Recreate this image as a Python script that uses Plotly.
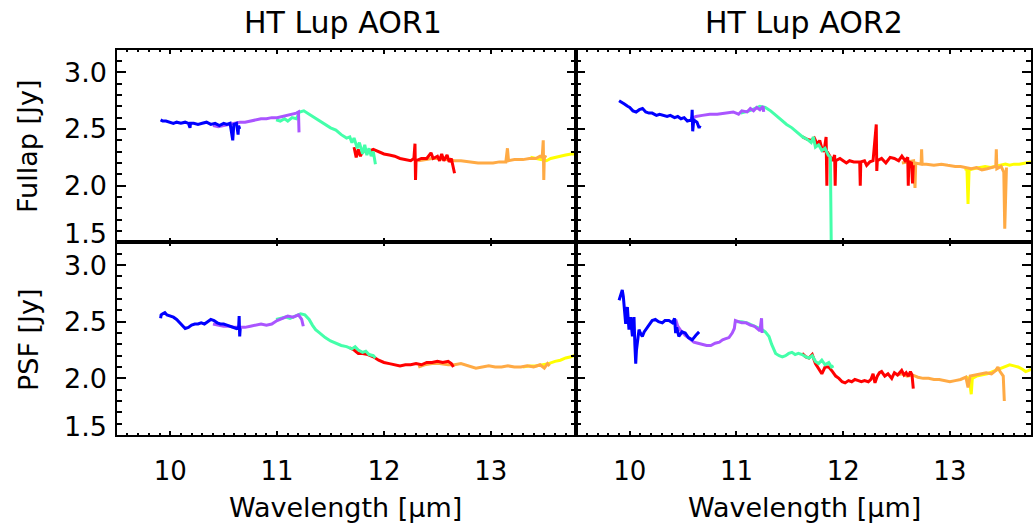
import plotly.graph_objects as go

# ---------------- data ----------------
# Panel: Fullap, AOR1
F1_BLUE_X = [9.91, 9.93, 9.96, 10.0, 10.03, 10.06, 10.1, 10.14, 10.17, 10.185, 10.19, 10.22, 10.26, 10.3, 10.34, 10.38, 10.42, 10.46, 10.5, 10.53, 10.56, 10.585, 10.59, 10.595, 10.62, 10.635, 10.64, 10.65]
F1_BLUE_Y = [2.58, 2.57, 2.57, 2.56, 2.55, 2.56, 2.55, 2.56, 2.55, 2.51, 2.55, 2.55, 2.54, 2.55, 2.56, 2.54, 2.55, 2.53, 2.55, 2.54, 2.55, 2.40, 2.53, 2.54, 2.55, 2.45, 2.53, 2.50]
F1_PURP_X = [10.40, 10.45, 10.5, 10.55, 10.6, 10.65, 10.7, 10.75, 10.8, 10.85, 10.9, 10.95, 11.0, 11.05, 11.1, 11.15, 11.18, 11.2, 11.205]
F1_PURP_Y = [2.53, 2.52, 2.53, 2.54, 2.55, 2.56, 2.56, 2.57, 2.58, 2.59, 2.59, 2.60, 2.60, 2.61, 2.62, 2.63, 2.64, 2.65, 2.47]
F1_AQUA_X = [10.99, 11.03, 11.07, 11.1, 11.14, 11.18, 11.21, 11.25, 11.3, 11.35, 11.4, 11.45, 11.5, 11.55, 11.6, 11.65, 11.68, 11.7, 11.72, 11.75, 11.77, 11.8, 11.82, 11.84, 11.86, 11.88, 11.9, 11.92]
F1_AQUA_Y = [2.58, 2.57, 2.59, 2.57, 2.60, 2.59, 2.65, 2.66, 2.63, 2.60, 2.57, 2.54, 2.51, 2.49, 2.45, 2.42, 2.43, 2.38, 2.42, 2.33, 2.38, 2.28, 2.36, 2.27, 2.33, 2.26, 2.30, 2.19]
F1_RED_X = [11.72, 11.74, 11.76, 11.78, 11.8, 11.85, 11.9, 11.95, 12.0, 12.05, 12.1, 12.15, 12.2, 12.25, 12.28, 12.29, 12.295, 12.3, 12.35, 12.4, 12.44, 12.46, 12.5, 12.52, 12.54, 12.56, 12.59, 12.61, 12.63, 12.65, 12.66]
F1_RED_Y = [2.34, 2.25, 2.32, 2.26, 2.31, 2.30, 2.32, 2.30, 2.28, 2.27, 2.26, 2.24, 2.23, 2.22, 2.24, 2.37, 2.05, 2.22, 2.24, 2.24, 2.29, 2.24, 2.26, 2.22, 2.28, 2.22, 2.27, 2.21, 2.24, 2.14, 2.11]
F1_ORAN_X = [12.32, 12.38, 12.45, 12.52, 12.6, 12.66, 12.72, 12.8, 12.88, 12.95, 13.02, 13.08, 13.14, 13.155, 13.165, 13.22, 13.3, 13.36, 13.42, 13.46, 13.48, 13.49, 13.495, 13.5, 13.52]
F1_ORAN_Y = [2.22, 2.23, 2.24, 2.24, 2.23, 2.22, 2.22, 2.21, 2.20, 2.20, 2.20, 2.21, 2.21, 2.33, 2.22, 2.23, 2.23, 2.24, 2.24, 2.26, 2.25, 2.40, 2.05, 2.26, 2.25]
F1_YELL_X = [13.37, 13.42, 13.47, 13.52, 13.56, 13.6, 13.65, 13.7, 13.75, 13.8]
F1_YELL_Y = [2.25, 2.24, 2.23, 2.22, 2.24, 2.25, 2.26, 2.27, 2.28, 2.28]

# Panel: Fullap, AOR2
F2_BLUE_X = [9.90, 9.92, 9.95, 9.98, 10.0, 10.03, 10.06, 10.09, 10.12, 10.15, 10.18, 10.21, 10.25, 10.28, 10.31, 10.35, 10.38, 10.42, 10.45, 10.48, 10.51, 10.54, 10.58, 10.585, 10.59, 10.6, 10.63, 10.65, 10.66]
F2_BLUE_Y = [2.75, 2.74, 2.72, 2.70, 2.69, 2.66, 2.65, 2.67, 2.68, 2.65, 2.64, 2.64, 2.62, 2.63, 2.62, 2.61, 2.62, 2.60, 2.61, 2.59, 2.60, 2.57, 2.58, 2.67, 2.48, 2.58, 2.56, 2.51, 2.53]
F2_PURP_X = [10.57, 10.62, 10.68, 10.75, 10.82, 10.9, 10.97, 11.02, 11.05, 11.1, 11.13, 11.16, 11.19, 11.22, 11.25, 11.255]
F2_PURP_Y = [2.59, 2.61, 2.62, 2.63, 2.63, 2.64, 2.65, 2.63, 2.66, 2.65, 2.68, 2.66, 2.69, 2.67, 2.70, 2.65]
F2_AQUA_X = [11.04, 11.08, 11.12, 11.17, 11.22, 11.27, 11.32, 11.37, 11.42, 11.47, 11.52, 11.57, 11.62, 11.66, 11.7, 11.72, 11.74, 11.77, 11.8, 11.83, 11.86, 11.88, 11.885, 11.89]
F2_AQUA_Y = [2.64, 2.65, 2.66, 2.68, 2.70, 2.69, 2.66, 2.62, 2.58, 2.54, 2.51, 2.47, 2.43, 2.41, 2.38, 2.43, 2.34, 2.36, 2.31, 2.33, 2.27, 2.25, 1.30, 1.30]
F2_RED_X = [11.62, 11.66, 11.7, 11.73, 11.76, 11.78, 11.8, 11.82, 11.84, 11.847, 11.85, 11.88, 11.9, 11.92, 11.925, 11.93, 11.97, 12.0, 12.03, 12.06, 12.1, 12.155, 12.16, 12.165, 12.2, 12.22, 12.25, 12.28, 12.31, 12.315, 12.32, 12.36, 12.4, 12.44, 12.48, 12.52, 12.55, 12.58, 12.605, 12.61, 12.615, 12.64, 12.65, 12.657]
F2_RED_Y = [2.43, 2.41, 2.40, 2.42, 2.36, 2.40, 2.33, 2.30, 2.43, 2.00, 2.30, 2.25, 2.22, 2.27, 2.00, 2.22, 2.24, 2.22, 2.20, 2.22, 2.21, 2.21, 2.00, 2.21, 2.22, 2.18, 2.21, 2.22, 2.54, 2.13, 2.22, 2.24, 2.20, 2.25, 2.24, 2.22, 2.26, 2.22, 2.25, 2.00, 2.21, 2.20, 2.02, 2.18]
F2_ORAN_X = [12.55, 12.6, 12.66, 12.673, 12.68, 12.73, 12.735, 12.74, 12.78, 12.85, 12.92, 12.98, 13.05, 13.1, 13.15, 13.2, 13.25, 13.3, 13.35, 13.4, 13.43, 13.435, 13.44, 13.48, 13.505, 13.514, 13.52, 13.53]
F2_ORAN_Y = [2.20, 2.21, 2.22, 1.98, 2.20, 2.19, 2.32, 2.19, 2.19, 2.18, 2.19, 2.18, 2.17, 2.17, 2.16, 2.15, 2.16, 2.14, 2.15, 2.16, 2.17, 2.32, 2.15, 2.17, 2.12, 1.62, 1.90, 2.16]
F2_YELL_X = [13.14, 13.16, 13.17, 13.18, 13.22, 13.28, 13.33, 13.38, 13.43, 13.48, 13.52, 13.56, 13.6, 13.65, 13.7, 13.76]
F2_YELL_Y = [2.15, 2.14, 1.84, 2.14, 2.15, 2.16, 2.17, 2.16, 2.17, 2.18, 2.19, 2.18, 2.19, 2.19, 2.20, 2.21]

# Panel: PSF, AOR1
P1_BLUE_X = [9.91, 9.915, 9.93, 9.95, 9.97, 10.0, 10.03, 10.06, 10.09, 10.12, 10.14, 10.17, 10.2, 10.23, 10.26, 10.29, 10.32, 10.35, 10.38, 10.41, 10.44, 10.47, 10.5, 10.53, 10.56, 10.59, 10.62, 10.64, 10.645, 10.65, 10.655]
P1_BLUE_Y = [2.53, 2.56, 2.57, 2.58, 2.56, 2.55, 2.54, 2.52, 2.49, 2.46, 2.44, 2.45, 2.47, 2.48, 2.48, 2.49, 2.48, 2.50, 2.52, 2.51, 2.49, 2.48, 2.48, 2.47, 2.46, 2.45, 2.44, 2.45, 2.55, 2.37, 2.44]
P1_PURP_X = [10.40, 10.45, 10.5, 10.55, 10.6, 10.65, 10.7, 10.75, 10.8, 10.85, 10.9, 10.95, 11.0, 11.05, 11.1, 11.15, 11.2, 11.23, 11.245]
P1_PURP_Y = [2.48, 2.47, 2.46, 2.46, 2.45, 2.45, 2.45, 2.46, 2.47, 2.48, 2.47, 2.48, 2.51, 2.53, 2.55, 2.54, 2.56, 2.52, 2.46]
P1_AQUA_X = [10.99, 11.03, 11.08, 11.12, 11.17, 11.22, 11.26, 11.3, 11.33, 11.36, 11.4, 11.45, 11.5, 11.55, 11.6, 11.65, 11.7, 11.73, 11.76, 11.8, 11.83, 11.86, 11.9, 11.92]
P1_AQUA_Y = [2.52, 2.53, 2.54, 2.53, 2.55, 2.57, 2.56, 2.52, 2.47, 2.43, 2.40, 2.36, 2.33, 2.31, 2.29, 2.28, 2.26, 2.28, 2.25, 2.23, 2.24, 2.21, 2.20, 2.18]
P1_RED_X = [11.68, 11.72, 11.76, 11.8, 11.85, 11.9, 11.95, 12.0, 12.05, 12.1, 12.15, 12.2, 12.25, 12.3, 12.35, 12.4, 12.45, 12.5, 12.55, 12.6, 12.63, 12.65]
P1_RED_Y = [2.27, 2.25, 2.22, 2.22, 2.21, 2.19, 2.16, 2.14, 2.13, 2.12, 2.11, 2.12, 2.12, 2.13, 2.12, 2.14, 2.14, 2.15, 2.14, 2.15, 2.13, 2.10]
P1_ORAN_X = [12.32, 12.38, 12.45, 12.52, 12.6, 12.66, 12.72, 12.8, 12.86, 12.92, 12.98, 13.04, 13.1, 13.16, 13.22, 13.28, 13.34, 13.4, 13.46, 13.5, 13.53, 13.55]
P1_ORAN_Y = [2.10, 2.12, 2.13, 2.13, 2.12, 2.12, 2.13, 2.11, 2.09, 2.10, 2.11, 2.10, 2.10, 2.11, 2.10, 2.10, 2.11, 2.10, 2.12, 2.09, 2.13, 2.11]
P1_YELL_X = [13.3, 13.36, 13.42, 13.48, 13.54, 13.6, 13.65, 13.7, 13.75, 13.8]
P1_YELL_Y = [2.10, 2.11, 2.11, 2.12, 2.13, 2.15, 2.16, 2.18, 2.19, 2.21]

# Panel: PSF, AOR2
P2_BLUE_X = [9.90, 9.91, 9.93, 9.94, 9.947, 9.955, 9.962, 9.97, 9.978, 9.985, 9.993, 10.0, 10.009, 10.017, 10.025, 10.033, 10.04, 10.048, 10.056, 10.063, 10.071, 10.08, 10.087, 10.1, 10.118, 10.135, 10.15, 10.165, 10.18, 10.2, 10.21, 10.24, 10.27, 10.305, 10.33, 10.367, 10.4, 10.42, 10.43, 10.44, 10.46, 10.49, 10.52, 10.55, 10.585, 10.62, 10.65]
P2_BLUE_Y = [2.69, 2.72, 2.78, 2.72, 2.65, 2.56, 2.48, 2.58, 2.63, 2.53, 2.43, 2.50, 2.54, 2.45, 2.37, 2.48, 2.54, 2.30, 2.13, 2.25, 2.31, 2.40, 2.43, 2.40, 2.37, 2.41, 2.43, 2.45, 2.47, 2.50, 2.51, 2.52, 2.50, 2.49, 2.51, 2.51, 2.49, 2.53, 2.40, 2.45, 2.37, 2.41, 2.40, 2.36, 2.34, 2.38, 2.41]
P2_PURP_X = [10.43, 10.45, 10.48, 10.52, 10.56, 10.6, 10.64, 10.68, 10.72, 10.76, 10.8, 10.84, 10.87, 10.9, 10.93, 10.96, 10.98, 10.99, 11.02, 11.05, 11.09, 11.13, 11.17, 11.2, 11.22, 11.235, 11.24]
P2_PURP_Y = [2.52, 2.46, 2.42, 2.38, 2.35, 2.32, 2.31, 2.30, 2.29, 2.29, 2.31, 2.32, 2.34, 2.35, 2.36, 2.40, 2.44, 2.51, 2.50, 2.49, 2.49, 2.47, 2.46, 2.44, 2.42, 2.53, 2.40]
P2_AQUA_X = [11.0, 11.05, 11.1, 11.15, 11.2, 11.24, 11.27, 11.305, 11.33, 11.367, 11.4, 11.43, 11.46, 11.49, 11.52, 11.55, 11.58, 11.615, 11.65, 11.68, 11.71, 11.74, 11.77, 11.8, 11.83, 11.865, 11.89, 11.91]
P2_AQUA_Y = [2.50, 2.50, 2.49, 2.47, 2.45, 2.43, 2.41, 2.37, 2.30, 2.22, 2.20, 2.19, 2.20, 2.22, 2.23, 2.21, 2.22, 2.21, 2.19, 2.18, 2.20, 2.15, 2.13, 2.16, 2.12, 2.14, 2.10, 2.11]
P2_RED_X = [11.615, 11.65, 11.68, 11.71, 11.74, 11.77, 11.8, 11.83, 11.865, 11.9, 11.93, 11.96, 11.99, 12.018, 12.05, 12.08, 12.11, 12.143, 12.17, 12.2, 12.236, 12.26, 12.28, 12.298, 12.32, 12.34, 12.36, 12.39, 12.42, 12.455, 12.48, 12.51, 12.548, 12.57, 12.59, 12.61, 12.63, 12.645, 12.657]
P2_RED_Y = [2.22, 2.19, 2.18, 2.21, 2.13, 2.08, 2.04, 2.10, 2.10, 2.06, 2.02, 2.00, 1.97, 1.96, 1.98, 1.97, 1.99, 1.98, 1.97, 1.98, 1.97, 1.99, 2.04, 1.96, 2.02, 2.05, 2.06, 2.02, 2.04, 2.00, 2.05, 2.03, 2.07, 2.03, 2.05, 2.02, 2.06, 2.03, 1.91]
P2_ORAN_X = [12.5, 12.55, 12.6, 12.65, 12.7, 12.75, 12.8, 12.85, 12.9, 12.95, 13.0, 13.05, 13.1, 13.15, 13.17, 13.19, 13.24, 13.29, 13.34, 13.39, 13.43, 13.45, 13.47, 13.5, 13.51]
P2_ORAN_Y = [2.03, 2.04, 2.02, 2.03, 2.01, 2.00, 2.00, 1.99, 1.99, 1.98, 1.97, 1.98, 1.99, 2.01, 1.92, 2.02, 2.03, 2.04, 2.05, 2.04, 2.07, 2.10, 2.06, 2.02, 1.80]
P2_YELL_X = [13.15, 13.18, 13.2, 13.21, 13.25, 13.3, 13.35, 13.4, 13.45, 13.5, 13.53, 13.56, 13.6, 13.64, 13.68, 13.71, 13.74, 13.76]
P2_YELL_Y = [2.01, 2.00, 1.86, 2.00, 2.02, 2.03, 2.04, 2.06, 2.08, 2.10, 2.11, 2.12, 2.11, 2.10, 2.08, 2.06, 2.07, 2.08]

PANEL_TITLES = ["HT Lup AOR1", "HT Lup AOR2"]
ROW_LABELS = ["Fullap [Jy]", "PSF [Jy]"]
X_LABEL = "Wavelength [\u03bcm]"
Y_TICKS = [1.5, 2.0, 2.5, 3.0]

# ---------------- styling ----------------
FONT = "DejaVu Sans"
COL = {
    "yell": "#ffff00",
    "oran": "#ffaa44",
    "red": "#ff0000",
    "aqua": "#44ffaa",
    "purp": "#aa55ff",
    "blue": "#0000ff",
}
W, H = 1033, 524
XL0, XMID, XR1 = 117.0, 577.5, 1033.0
YT0, YMID, YB1 = 49.6, 242.4, 435.0

def fx(px):
    return px / W

def fy(py):
    return 1 - py / H

panels = [
    ("x", "y", [("yell", F1_YELL_X, F1_YELL_Y), ("oran", F1_ORAN_X, F1_ORAN_Y), ("red", F1_RED_X, F1_RED_Y),
                ("aqua", F1_AQUA_X, F1_AQUA_Y), ("purp", F1_PURP_X, F1_PURP_Y), ("blue", F1_BLUE_X, F1_BLUE_Y)]),
    ("x2", "y2", [("yell", F2_YELL_X, F2_YELL_Y), ("oran", F2_ORAN_X, F2_ORAN_Y), ("red", F2_RED_X, F2_RED_Y),
                  ("aqua", F2_AQUA_X, F2_AQUA_Y), ("purp", F2_PURP_X, F2_PURP_Y), ("blue", F2_BLUE_X, F2_BLUE_Y)]),
    ("x3", "y3", [("yell", P1_YELL_X, P1_YELL_Y), ("oran", P1_ORAN_X, P1_ORAN_Y), ("red", P1_RED_X, P1_RED_Y),
                  ("aqua", P1_AQUA_X, P1_AQUA_Y), ("purp", P1_PURP_X, P1_PURP_Y), ("blue", P1_BLUE_X, P1_BLUE_Y)]),
    ("x4", "y4", [("yell", P2_YELL_X, P2_YELL_Y), ("oran", P2_ORAN_X, P2_ORAN_Y), ("red", P2_RED_X, P2_RED_Y),
                  ("aqua", P2_AQUA_X, P2_AQUA_Y), ("purp", P2_PURP_X, P2_PURP_Y), ("blue", P2_BLUE_X, P2_BLUE_Y)]),
]

fig = go.Figure()
for xa, ya, series in panels:
    for key, xs, ys in series:
        fig.add_trace(go.Scatter(x=xs, y=ys, xaxis=xa, yaxis=ya, mode="lines",
                                 line=dict(color=COL[key], width=3), showlegend=False,
                                 hoverinfo="skip"))

def xaxis(dom, rng, anchor, labels):
    return dict(domain=dom, range=rng, anchor=anchor, showline=True, linecolor="black", linewidth=2,
                mirror="allticks", ticks="inside", ticklen=4, tickwidth=2, tickcolor="black",
                tick0=0, dtick=1, showticklabels=labels, ticklabelstandoff=12,
                tickfont=dict(family=FONT, size=26, color="black"),
                minor=dict(ticks="inside", dtick=0.1, tick0=0, ticklen=2, tickwidth=1.5,
                           tickcolor="black", showgrid=False),
                showgrid=False, zeroline=False, fixedrange=True)

def yaxis(dom, anchor):
    return dict(domain=dom, range=[1.5, 3.2], anchor=anchor, showline=True, linecolor="black", linewidth=2,
                mirror="allticks", ticks="inside", ticklen=9, tickwidth=2, tickcolor="black",
                tick0=0, dtick=0.5, showticklabels=False,
                minor=dict(ticks="inside", dtick=0.1, tick0=0, ticklen=5, tickwidth=2,
                           tickcolor="black", showgrid=False),
                showgrid=False, zeroline=False, fixedrange=True)

xl = [fx(XL0), fx(XMID)]
xr = [fx(XMID), 1.0]
yt = [fy(YMID), fy(YT0)]
yb = [fy(YB1), fy(YMID)]

fig.update_layout(
    width=W, height=H, margin=dict(l=0, r=0, t=0, b=0),
    paper_bgcolor="white", plot_bgcolor="white",
    xaxis=xaxis(xl, [9.5, 13.8], "y", False),
    xaxis2=xaxis(xr, [9.5, 13.76], "y2", False),
    xaxis3=xaxis(xl, [9.5, 13.8], "y3", True),
    xaxis4=xaxis(xr, [9.5, 13.76], "y4", True),
    yaxis=yaxis(yt, "x"),
    yaxis2=yaxis(yt, "x2"),
    yaxis3=yaxis(yb, "x3"),
    yaxis4=yaxis(yb, "x4"),
)

ann = []
# y tick labels for the left column (the lowest one is nudged up, as in the original)
for yref in ["y", "y3"]:
    for v in Y_TICKS:
        ann.append(dict(x=fx(109), y=v, xref="paper", yref=yref, text=f"{v:.1f}", showarrow=False,
                        xanchor="right", yanchor="middle", yshift=(9 if v == Y_TICKS[0] else 0),
                        font=dict(family=FONT, size=27, color="black")))
for cx, t in zip([344, 806], PANEL_TITLES):
    ann.append(dict(x=fx(cx), y=fy(23), xref="paper", yref="paper", text=t, showarrow=False,
                    xanchor="center", yanchor="middle", font=dict(family=FONT, size=30, color="black")))
for cy, t in zip([146, 339], ROW_LABELS):
    ann.append(dict(x=fx(28), y=fy(cy), xref="paper", yref="paper", text=t, showarrow=False, textangle=-90,
                    xanchor="center", yanchor="middle", font=dict(family=FONT, size=27, color="black")))
for cx in [346, 806]:
    ann.append(dict(x=fx(cx), y=fy(507), xref="paper", yref="paper", text=X_LABEL, showarrow=False,
                    xanchor="center", yanchor="middle", font=dict(family=FONT, size=27, color="black")))
fig.update_layout(annotations=ann)

fig.write_html("out.html")
